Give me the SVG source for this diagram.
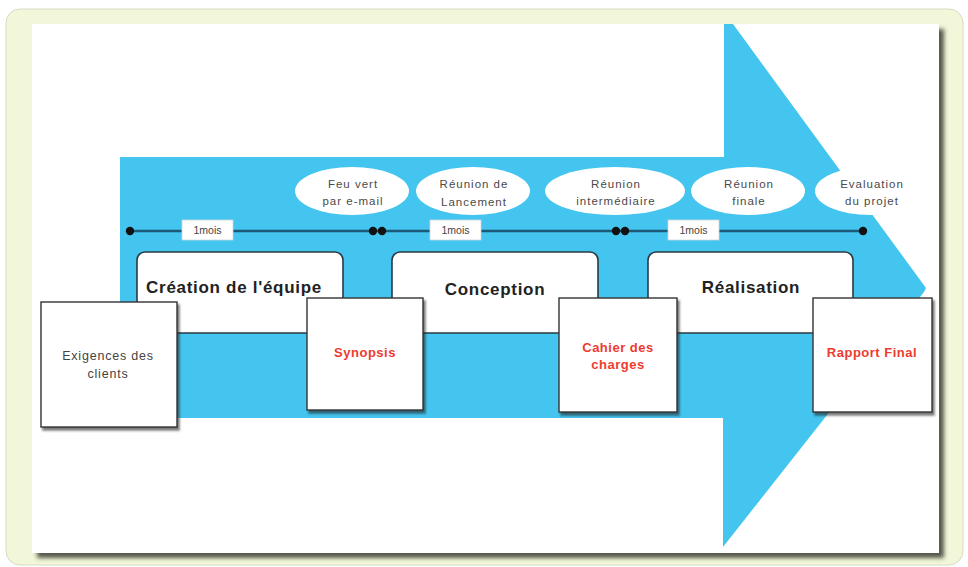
<svg xmlns="http://www.w3.org/2000/svg" width="968" height="567" viewBox="0 0 968 567">
<defs>
<filter id="panelShadow" x="-5%" y="-5%" width="110%" height="110%">
<feDropShadow dx="5" dy="5" stdDeviation="2" flood-color="#3a3d30" flood-opacity="0.85"/>
</filter>
<filter id="docShadow" x="-10%" y="-10%" width="125%" height="125%">
<feDropShadow dx="2" dy="3" stdDeviation="1.2" flood-color="#222" flood-opacity="0.6"/>
</filter>
<style>
.phase{fill:#fff;stroke:#2b3a40;stroke-width:1.6}
.doc{fill:#fff;stroke:#333;stroke-width:1.4;filter:url(#docShadow)}
.ell{fill:#fff}
.etxt{font-family:"Liberation Sans",Arial,sans-serif;font-size:11.5px;fill:#4a4a4a;text-anchor:middle;letter-spacing:1px}
.ptxt{font-family:"Liberation Sans",Arial,sans-serif;font-size:17px;font-weight:bold;fill:#222;text-anchor:middle;letter-spacing:0.7px}
.dtxt{font-family:"Liberation Sans",Arial,sans-serif;font-size:12.5px;fill:#444;text-anchor:middle;letter-spacing:0.8px}
.rtxt{font-family:"Liberation Sans",Arial,sans-serif;font-size:13px;font-weight:bold;fill:#ee3b2f;text-anchor:middle;letter-spacing:0.5px}
.mois{fill:#fff;stroke:#cfd8dc;stroke-width:0.8}
.mtxt{font-family:"Liberation Sans",Arial,sans-serif;font-size:10.5px;fill:#444;text-anchor:middle}
.dot{fill:#111}
</style>
</defs>
<rect x="6" y="9" width="957" height="556" rx="14" fill="#f3f7d9" stroke="#d6dac2" stroke-width="1"/>
<rect x="32" y="24" width="907" height="529" fill="#fff" filter="url(#panelShadow)"/>
<path id="arrow" d="M120,157 L724,157 L724,24 L733,24 L926,288 L924,292 L723,547 L723,418 L120,418 Z" fill="#44c5ef"/>
<g id="milestones">
<g id="m-feu"><ellipse class="ell" cx="352" cy="191" rx="57" ry="24"/><text class="etxt" x="353" y="188">Feu vert</text><text class="etxt" x="353" y="205">par e-mail</text></g>
<g id="m-lancement"><ellipse class="ell" cx="473" cy="191" rx="57" ry="24"/><text class="etxt" x="474" y="188">Réunion de</text><text class="etxt" x="474" y="206">Lancement</text></g>
<g id="m-inter"><ellipse class="ell" cx="615" cy="191" rx="70" ry="24"/><text class="etxt" x="616" y="188">Réunion</text><text class="etxt" x="616" y="205">intermédiaire</text></g>
<g id="m-finale"><ellipse class="ell" cx="748" cy="191" rx="57" ry="24"/><text class="etxt" x="749" y="188">Réunion</text><text class="etxt" x="749" y="205">finale</text></g>
<g id="m-eval"><ellipse class="ell" cx="870" cy="191" rx="55" ry="24"/><text class="etxt" x="872" y="188">Evaluation</text><text class="etxt" x="872" y="205">du projet</text></g>
</g>
<g id="connectors">
<line x1="130" y1="231" x2="863" y2="231" stroke="#1d5a78" stroke-width="2.5"/>
<circle class="dot" cx="130" cy="231" r="4.2"/>
<circle class="dot" cx="373" cy="231" r="4.2"/>
<circle class="dot" cx="382" cy="231" r="4.2"/>
<circle class="dot" cx="616" cy="231" r="4.2"/>
<circle class="dot" cx="625" cy="231" r="4.2"/>
<circle class="dot" cx="863" cy="231" r="4.2"/>
</g>
<g id="durations">
<g id="d1"><rect class="mois" x="182" y="220" width="51" height="20"/><text class="mtxt" x="207.5" y="234">1mois</text></g>
<g id="d2"><rect class="mois" x="430" y="220" width="51" height="20"/><text class="mtxt" x="455.5" y="234">1mois</text></g>
<g id="d3"><rect class="mois" x="668" y="220" width="51" height="20"/><text class="mtxt" x="693.5" y="234">1mois</text></g>
</g>
<g id="p-creation"><rect class="phase" x="137" y="252" width="206" height="81" rx="8"/><text class="ptxt" x="234" y="293">Création de l'équipe</text></g>
<g id="p-conception"><rect class="phase" x="392" y="252" width="206" height="81" rx="8"/><text class="ptxt" x="495" y="295">Conception</text></g>
<g id="p-realisation"><rect class="phase" x="648" y="252" width="205" height="81" rx="8"/><text class="ptxt" x="751" y="293">Réalisation</text></g>
<g id="doc-exigences"><rect class="doc" x="41" y="302" width="136" height="125"/><text class="dtxt" x="108" y="360">Exigences des</text><text class="dtxt" x="108" y="378">clients</text></g>
<g id="doc-synopsis"><rect class="doc" x="307" y="298" width="116" height="112"/><text class="rtxt" x="365" y="357">Synopsis</text></g>
<g id="doc-cahier"><rect class="doc" x="559" y="298" width="118" height="114"/><text class="rtxt" x="618" y="352">Cahier des</text><text class="rtxt" x="618" y="369">charges</text></g>
<g id="doc-rapport"><rect class="doc" x="813" y="298" width="119" height="114"/><text class="rtxt" x="872" y="357">Rapport Final</text></g>
</svg>
